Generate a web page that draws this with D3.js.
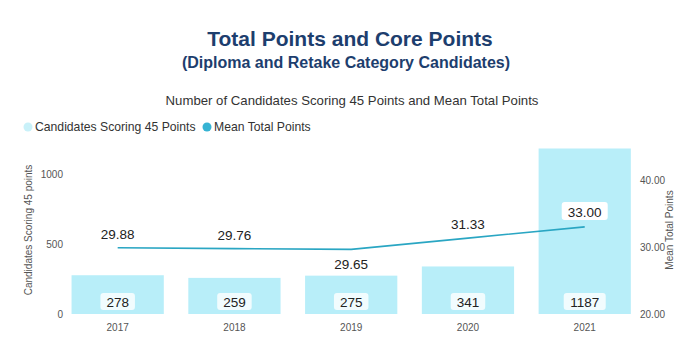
<!DOCTYPE html>
<html>
<head>
<meta charset="utf-8">
<script src="https://cdn.jsdelivr.net/npm/d3@7"></script>
<style>
  html, body { margin: 0; padding: 0; background: #fff; }
  svg { display: block; font-family: "Liberation Sans", Arial, sans-serif; }
</style>
</head>
<body>
<svg id="chart" width="700" height="349"></svg>
<script>
// Data
const years = ["2017", "2018", "2019", "2020", "2021"];
const candidates45 = [278, 259, 275, 341, 1187];
const meanTotal = [29.88, 29.76, 29.65, 31.33, 33.00];
const leftTicks = [0, 500, 1000];
const rightTicks = [20, 30, 40];

const svg = d3.select("#chart");

const barColor = "#b8eef9";
const lineColor = "#2aa6c3";

// Titles
svg.append("text").attr("x", 350).attr("y", 46).attr("text-anchor", "middle")
  .attr("font-size", 21).attr("font-weight", "bold").attr("fill", "#1d3e6e")
  .text("Total Points and Core Points");
svg.append("text").attr("x", 346).attr("y", 68).attr("text-anchor", "middle")
  .attr("font-size", 16).attr("font-weight", "bold").attr("fill", "#1d3e6e")
  .text("(Diploma and Retake Category Candidates)");
svg.append("text").attr("x", 352).attr("y", 105).attr("text-anchor", "middle")
  .attr("font-size", 13.2).attr("fill", "#333")
  .text("Number of Candidates Scoring 45 Points and Mean Total Points");

// Legend
const legend = [
  { label: "Candidates Scoring 45 Points", color: "#c9f1f9", x: 28 },
  { label: "Mean Total Points", color: "#36b3d3", x: 207 }
];
const lg = svg.append("g");
legend.forEach(d => {
  lg.append("circle").attr("cx", d.x).attr("cy", 127).attr("r", 4.5).attr("fill", d.color);
  lg.append("text").attr("x", d.x + 7).attr("y", 131).attr("font-size", 12.2)
    .attr("fill", "#333").text(d.label);
});

// Scales
const x = d3.scaleBand().domain(years).range([59.3, 643.1]).paddingInner(0.21).paddingOuter(0.105);
const yL = d3.scaleLinear().domain([0, 1187]).range([314, 148.5]);
const yR = d3.scaleLinear().domain([20, 44.7]).range([314, 148.5]);

// Axes (labels only, no domain lines)
const axL = svg.append("g").attr("transform", "translate(63,0)")
  .call(d3.axisLeft(yL).tickValues(leftTicks).tickSize(0).tickPadding(0).tickFormat(d3.format("d")));
const axR = svg.append("g").attr("transform", "translate(640,0)")
  .call(d3.axisRight(yR).tickValues(rightTicks).tickSize(0).tickPadding(0).tickFormat(d3.format(".2f")));
const axX = svg.append("g").attr("transform", "translate(0,314)")
  .call(d3.axisBottom(x).tickSize(0).tickPadding(10));
[axL, axR, axX].forEach(g => {
  g.select(".domain").remove();
  g.selectAll("text").attr("fill", "#555").attr("font-size", 10)
    .attr("font-family", "'Liberation Sans', Arial, sans-serif");
});

// Axis titles
svg.append("text").attr("transform", "translate(32,230) rotate(-90)")
  .attr("text-anchor", "middle").attr("font-size", 10).attr("fill", "#555")
  .text("Candidates Scoring 45 points");
svg.append("text").attr("transform", "translate(673,230) rotate(-90)")
  .attr("text-anchor", "middle").attr("font-size", 10).attr("fill", "#555")
  .text("Mean Total Points");

// Bars
svg.append("g").selectAll("rect").data(years).join("rect")
  .attr("x", d => x(d)).attr("width", x.bandwidth())
  .attr("y", (d, i) => yL(candidates45[i]))
  .attr("height", (d, i) => yL(0) - yL(candidates45[i]))
  .attr("fill", barColor);

// Bar value labels in white boxes near the base
const bl = svg.append("g");
years.forEach((yr, i) => {
  const cx = x(yr) + x.bandwidth() / 2;
  const t = String(candidates45[i]);
  const w = t.length * 7.5 + 12;
  bl.append("rect").attr("x", cx - w / 2).attr("y", 293).attr("width", w).attr("height", 17)
    .attr("rx", 3).attr("fill", "#fff").attr("fill-opacity", 0.8);
  bl.append("text").attr("x", cx).attr("y", 306.5).attr("text-anchor", "middle")
    .attr("font-size", 13.5).attr("fill", "#222").text(t);
});

// Mean line
const line = d3.line().x((d, i) => x(years[i]) + x.bandwidth() / 2).y(d => yR(d));
svg.append("path").datum(meanTotal).attr("d", line)
  .attr("fill", "none").attr("stroke", lineColor).attr("stroke-width", 1.6);

// Mean labels: above the point, except 2019 which sits below
const offsets = [-9, -9, 20, -9, -10];
const ml = svg.append("g");
meanTotal.forEach((v, i) => {
  const cx = x(years[i]) + x.bandwidth() / 2;
  const ty = yR(v) + offsets[i];
  const t = d3.format(".2f")(v);
  if (i === meanTotal.length - 1) {
    ml.append("rect").attr("x", cx - 23).attr("y", ty - 15).attr("width", 46).attr("height", 18)
      .attr("rx", 3).attr("fill", "#fff");
  }
  ml.append("text").attr("x", cx).attr("y", ty).attr("text-anchor", "middle")
    .attr("font-size", 13.5).attr("fill", "#222").text(t);
});
</script>
</body>
</html>
